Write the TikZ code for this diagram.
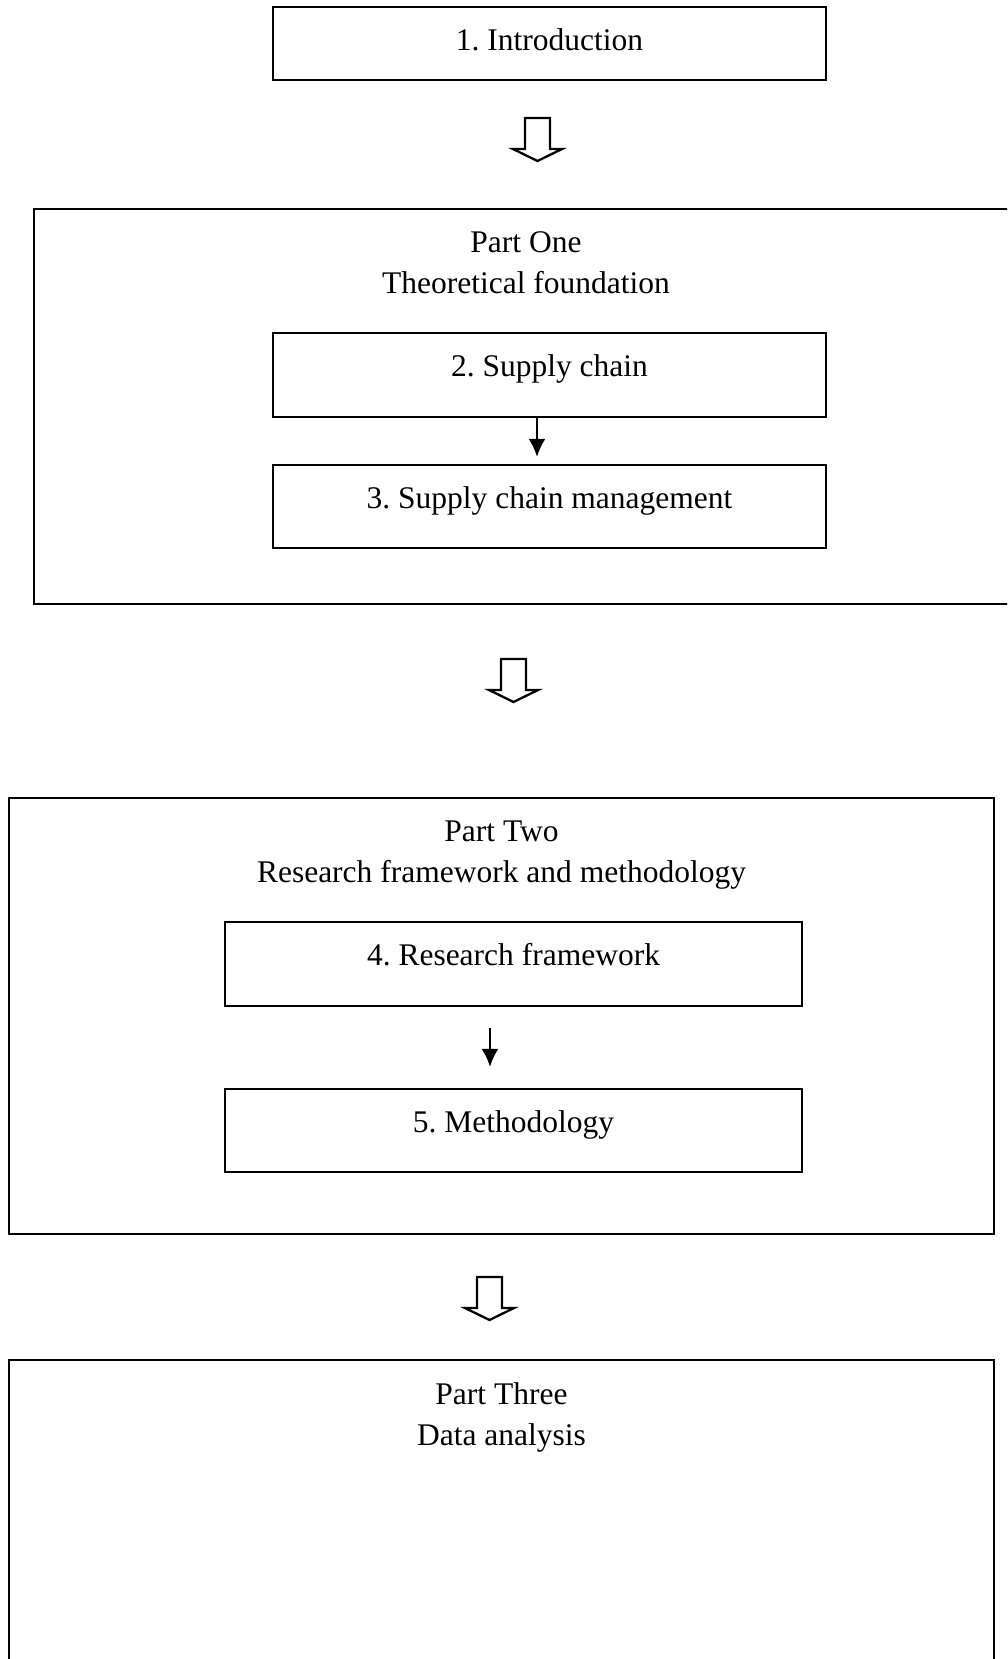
\documentclass[tikz,border=0pt]{standalone}
\usepackage{fontspec}
\setmainfont{Liberation Serif}
\frenchspacing
\usetikzlibrary{arrows.meta}
\tikzset{%
  box/.style = {
    draw, line width=2.3pt, inner sep=0pt,
    minimum width=553pt, minimum height=84pt,
    text height=21pt, text depth=18pt,
  },
  part frame/.style = {
    draw, line width=2.3pt, inner sep=0pt,
  },
  title/.style = {anchor=base, inner sep=0pt},
  thin arrow/.style = {line width=2.1pt, -{Latex[length=18pt,width=17pt]}},
  hollow arrow/.pic = {
    \draw[line width=2.3pt, line join=miter, fill=white]
      (-12.5,0) -- (12.5,0) -- (12.5,31) -- (24.5,31) -- (0,43)
      -- (-24.5,31) -- (-12.5,31) -- cycle;
  }
}

\begin{document}
\begin{tikzpicture}[x=1pt, y=-1pt, font=\fontsize{31.5}{40}\selectfont]
\clip (0,0) rectangle (1007,1659);
\fill[white] (0,0) rectangle (1007,1659);
% top box
 \node[box, minimum height=73pt, text depth=7pt] (intro) at (549.5,43.5) {1. Introduction};
\pic at (537.5,118) {hollow arrow};
% part one
 \node[part frame, minimum width=984pt, minimum height=395pt] (p1) at (526,406.5) {};
 \node[title] (p1a) at ([yshift=-45pt]p1.north) {Part One};
 \node[title] (p1b) at ([yshift=-41pt]p1a.base) {Theoretical foundation};
 \node[box] (sc) at (549.5,375) {2. Supply chain};
 \node[box, minimum height=83pt] (scm) at (549.5,506.5) {3. Supply chain management};
\draw[thin arrow, shorten >=7pt] ([xshift=-12.5pt]sc.south) -- ([xshift=-12.5pt]scm.north);
\pic at (513.5,659) {hollow arrow};
% part two
 \node[part frame, minimum width=985pt, minimum height=436pt] (p2) at (501.5,1016) {};
 \node[title] (p2a) at ([yshift=-45pt]p2.north) {Part Two};
 \node[title] (p2b) at ([yshift=-41pt]p2a.base) {Research framework and methodology};
 \node[box, minimum width=577pt] (rf) at (513.5,964) {4. Research framework};
 \node[box, minimum width=577pt, minimum height=83pt] (meth) at (513.5,1130.5) {5. Methodology};
\draw[thin arrow, shorten <=21pt, shorten >=21pt] ([xshift=-23.5pt]rf.south) -- ([xshift=-23.5pt]meth.north);
\pic at (489.5,1277) {hollow arrow};
% part three, cut off at the bottom
 \node[part frame, minimum width=985pt, minimum height=340pt] (p3) at (501.5,1530) {};
 \node[title] (p3a) at ([yshift=-46pt]p3.north) {Part Three};
 \node[title] (p3b) at ([yshift=-41pt]p3a.base) {Data analysis};
\end{tikzpicture}
\end{document}
